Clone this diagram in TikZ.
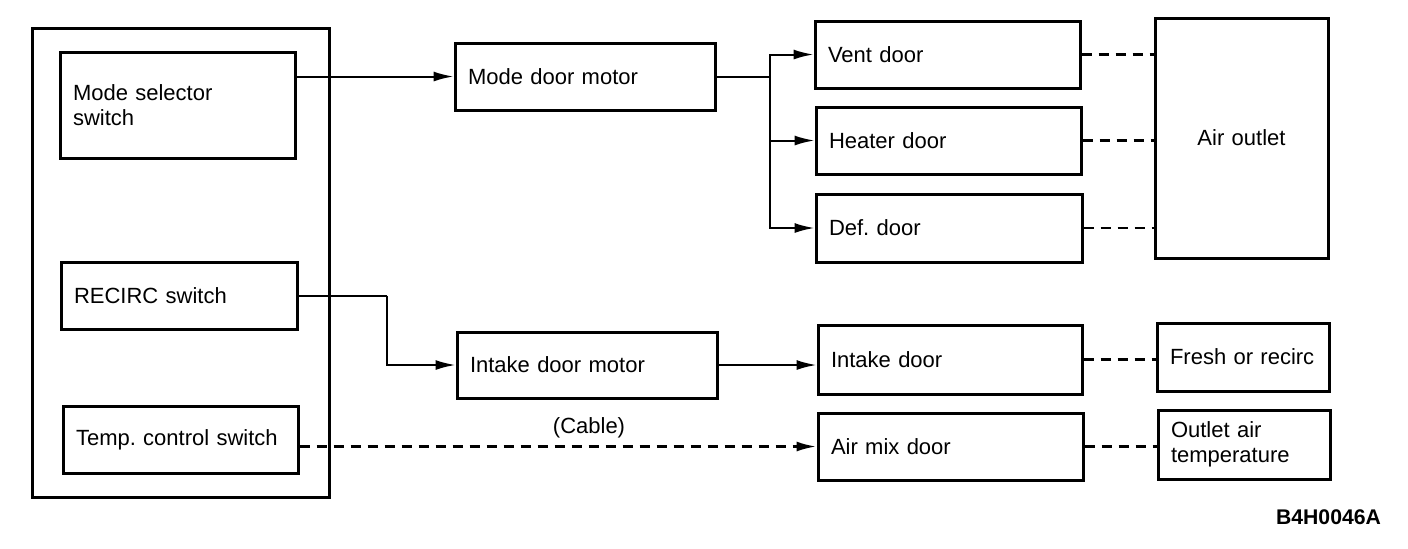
\documentclass[tikz,border=0pt]{standalone}
\usepackage{fontspec}
\setmainfont{Liberation Sans}
\usepackage{tikz}
\usetikzlibrary{arrows.meta}
\frenchspacing

\begin{document}
\begin{tikzpicture}[x=0.5pt, y=-0.5pt,
  font=\fontsize{11}{12.5}\selectfont,
  box/.style={draw, line width=1.5pt, inner xsep=6.5pt, inner ysep=0pt, align=left},
  ->/.style={-{Latex[length=10pt, width=5pt]}},
  every edge/.style={draw, line width=1pt},
  cable/.style={dash pattern=on 5pt off 3.5pt, line width=1.3pt}]
\useasboundingbox (0,0) rectangle (1408,548);

\node[draw, line width=1.5pt, minimum width=148.5pt, minimum height=234.5pt] (Pnl) at (180.5,262.5) {};
\node[box, text width=104.5pt, minimum height=53pt] (Sel) at (177.5,105) {Mode selector\\switch};
\node[box, text width=105pt, minimum height=33.5pt] (Rec) at (179,295.5) {RECIRC switch};
\node[box, text width=104.5pt, minimum height=33.5pt] (Tmp) at (180.5,439.5) {Temp. control switch};
\node[box, text width=117pt, minimum height=33.5pt] (MM) at (585,76.5) {Mode door motor};
\node[box, text width=117pt, minimum height=33pt] (IM) at (587,365) {Intake door motor};
\node[box, text width=119.5pt, minimum height=33.5pt] (VD) at (947.5,54.5) {Vent door};
\node[box, text width=119.5pt, minimum height=33.5pt] (HD) at (948.5,140.5) {Heater door};
\node[box, text width=120pt, minimum height=34pt] (DD) at (949,228) {Def. door};
\node[box, text width=119pt, minimum height=34.5pt] (ID) at (950,359.5) {Intake door};
\node[box, text width=119.5pt, minimum height=33.5pt] (AD) at (950.5,446.5) {Air mix door};
\node[box, text width=73.5pt, minimum height=120pt, align=center] (AO) at (1241.5,138) {Air outlet};
\node[box, text width=73pt, minimum height=34pt] (FR) at (1243,357) {Fresh or recirc};
\node[box, text width=73pt, minimum height=34.5pt] (OT) at (1244,444.5) {Outlet air\\temperature};
\node (Id) at (1328.5,517) {\fontsize{10.6}{12}\selectfont\bfseries B4H0046A};

\coordinate (br) at (770,76.5);
\coordinate (rc) at (387,295.5);

\path[]
(Sel.east |- MM) edge[->] (MM)
(MM) edge (br)
(br) edge[->, to path={|- (\tikztotarget)}] (VD)
(br) edge[->, to path={|- (\tikztotarget)}] (HD)
(br) edge[->, to path={|- (\tikztotarget)}] (DD)
(Rec) edge (rc)
(rc) edge[->, to path={|- (\tikztotarget)}] (IM)
(IM) edge[->] (IM -| ID.west)
(Tmp.east |- AD) edge[->, cable] node[above, pos=0.56]{(Cable)} (AD)
(VD) edge[cable] (VD -| AO.west)
(HD) edge[cable] (HD -| AO.west)
(DD) edge[cable] (DD -| AO.west)
(ID) edge[cable] (ID -| FR.west)
(AD) edge[cable] (AD -| OT.west)
;
\end{tikzpicture}
\end{document}
